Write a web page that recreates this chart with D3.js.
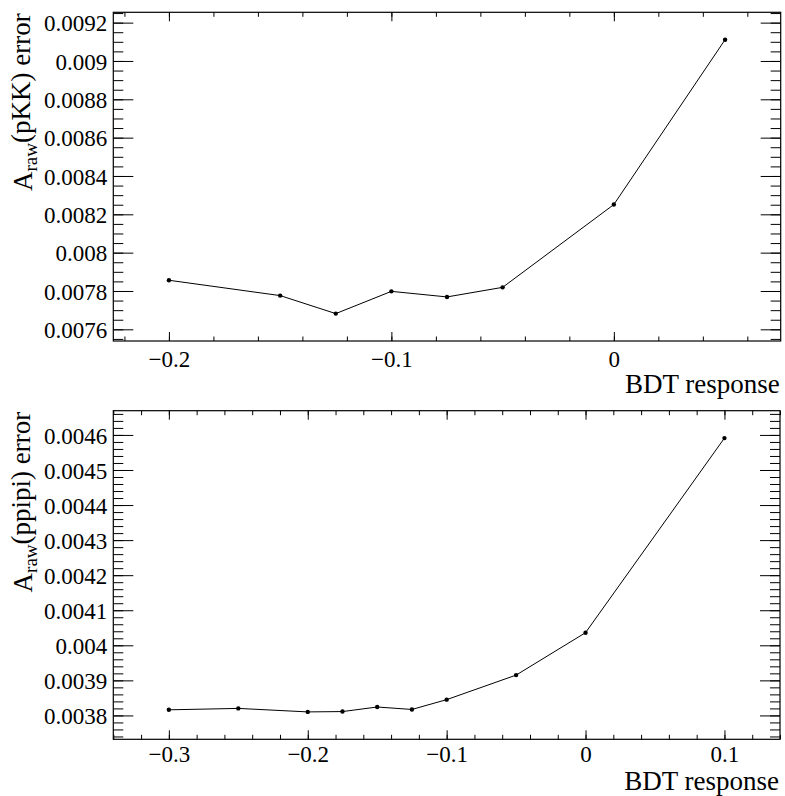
<!DOCTYPE html>
<html>
<head>
<meta charset="utf-8">
<script src="https://cdn.jsdelivr.net/npm/d3@7"></script>
<style>
  body { margin: 0; background: #fff; }
  svg { display: block; }
</style>
</head>
<body>
<div id="chart"></div>
<script>
// top panel: pKK
var bdtKK = [-0.2, -0.15, -0.125, -0.1, -0.075, -0.05, 0, 0.05];
var errKK = [0.007856, 0.007776, 0.007682, 0.007798, 0.007769, 0.007819, 0.008251, 0.009111];
var xTicksKK = [-0.2, -0.1, 0];
var yTicksKK = [0.0076, 0.0078, 0.008, 0.0082, 0.0084, 0.0086, 0.0088, 0.009, 0.0092];

// bottom panel: ppipi
var bdtPP = [-0.3, -0.25, -0.2, -0.175, -0.15, -0.125, -0.1, -0.05, 0, 0.1];
var errPP = [0.003816, 0.003820, 0.003810, 0.003811, 0.003824, 0.003817, 0.003845, 0.003915, 0.004036, 0.004591];
var xTicksPP = [-0.3, -0.2, -0.1, 0, 0.1];
var yTicksPP = [0.0038, 0.0039, 0.004, 0.0041, 0.0042, 0.0043, 0.0044, 0.0045, 0.0046];

var width = 785,
  height = 796;
var serif = "'Liberation Serif'";

var svg = d3.select("#chart")
  .append("svg")
  .attr("width", width)
  .attr("height", height);

function fmt(d) {
  return (Math.round(d * 1e7) / 1e7).toString().replace("-", "\u2212");
}

// minor ticks between majors, clipped to domain
function minorTicks(major, nsub, domain) {
  var step = (major[1] - major[0]) / nsub;
  var out = [];
  var start = major[0] - Math.ceil((major[0] - domain[0]) / step) * step;
  for (var v = start; v <= domain[1] + 1e-12; v += step) {
    if (v >= domain[0] - 1e-12) out.push(+v.toFixed(8));
  }
  return out;
}

// ROOT style 10% padding around data
function pad(vals) {
  var ext = d3.extent(vals);
  var m = (ext[1] - ext[0]) * 0.1;
  return [ext[0] - m, ext[1] + m];
}

function drawPanel(opt) {
  var g = svg.append("g");
  var x = d3.scaleLinear().domain(pad(opt.xs)).range([opt.left, opt.right]);
  var y = d3.scaleLinear().domain(pad(opt.ys)).range([opt.bottom, opt.top]);

  var xMinor = minorTicks(opt.xTicks, 5, x.domain());
  var yMinor = minorTicks(opt.yTicks, opt.ySub, y.domain());

  //x axis bottom (labels) and top (mirror)
  g.append("g")
    .attr("transform", "translate(0," + opt.bottom + ")")
    .call(d3.axisBottom(x).tickValues(xMinor).tickSize(-4.5).tickFormat(""));
  g.append("g")
    .attr("transform", "translate(0," + opt.bottom + ")")
    .call(d3.axisBottom(x).tickValues(opt.xTicks).tickSize(-9).tickPadding(opt.xLabelOff).tickFormat(fmt))
    .selectAll("text").attr("dy", "0");
  g.append("g")
    .attr("transform", "translate(0," + opt.top + ")")
    .call(d3.axisTop(x).tickValues(xMinor).tickSize(-4.5).tickFormat(""));
  g.append("g")
    .attr("transform", "translate(0," + opt.top + ")")
    .call(d3.axisTop(x).tickValues(opt.xTicks).tickSize(-9).tickFormat(""));

  //y axis left (labels) and right (mirror)
  g.append("g")
    .attr("transform", "translate(" + opt.left + ",0)")
    .call(d3.axisLeft(y).tickValues(yMinor).tickSize(-10).tickFormat(""));
  g.append("g")
    .attr("transform", "translate(" + opt.left + ",0)")
    .call(d3.axisLeft(y).tickValues(opt.yTicks).tickSize(-20).tickPadding(6).tickFormat(fmt))
    .selectAll("text").attr("dy", "0.36em");
  g.append("g")
    .attr("transform", "translate(" + opt.right + ",0)")
    .call(d3.axisRight(y).tickValues(yMinor).tickSize(-10).tickFormat(""));
  g.append("g")
    .attr("transform", "translate(" + opt.right + ",0)")
    .call(d3.axisRight(y).tickValues(opt.yTicks).tickSize(-20).tickFormat(""));

  g.selectAll(".domain").remove();
  g.selectAll(".tick line").attr("stroke", "#000").attr("stroke-width", 1);
  g.selectAll(".tick text")
    .attr("fill", "#000")
    .style("font-family", serif)
    .style("font-size", "23px");

  //frame
  g.append("rect")
    .attr("x", opt.left)
    .attr("y", opt.top)
    .attr("width", opt.right - opt.left)
    .attr("height", opt.bottom - opt.top)
    .attr("fill", "none")
    .attr("stroke", "#000")
    .attr("stroke-width", 1.2);

  var pts = opt.xs.map(function(d, i) { return [d, opt.ys[i]]; });

  var line = d3.line()
    .x(function(d) { return x(d[0]); })
    .y(function(d) { return y(d[1]); });

  g.append("path")
    .datum(pts)
    .attr("d", line)
    .attr("fill", "none")
    .attr("stroke", "#000")
    .attr("stroke-width", 1);

  g.selectAll(".pt")
    .data(pts)
    .enter().append("circle")
    .attr("class", "pt")
    .attr("cx", function(d) { return x(d[0]); })
    .attr("cy", function(d) { return y(d[1]); })
    .attr("r", 2.2)
    .attr("fill", "#000");

  //axis titles
  g.append("text")
    .attr("x", opt.right - 1)
    .attr("y", opt.bottom + opt.titleOff)
    .attr("text-anchor", "end")
    .style("font-family", serif)
    .style("font-size", "27px")
    .text("BDT response");

  var yt = g.append("text")
    .attr("transform", "translate(32," + (opt.top + 1) + ") rotate(-90)")
    .attr("text-anchor", "end")
    .style("font-family", serif)
    .style("font-size", "27px");
  yt.append("tspan").text("A");
  yt.append("tspan").attr("dy", "0.28em").style("font-size", "19px").text("raw");
  yt.append("tspan").attr("dy", "-0.28em").text(opt.label + " error");
}

drawPanel({
  xs: bdtKK, ys: errKK, xTicks: xTicksKK, yTicks: yTicksKK, ySub: 4,
  left: 113.3, right: 780.7, top: 12.3, bottom: 341,
  xLabelOff: 25.5, titleOff: 51.5,
  label: "(pKK)"
});

drawPanel({
  xs: bdtPP, ys: errPP, xTicks: xTicksPP, yTicks: yTicksPP, ySub: 5,
  left: 113.3, right: 780, top: 410.7, bottom: 739.3,
  xLabelOff: 22.4, titleOff: 50.7,
  label: "(ppipi)"
});
</script>
</body>
</html>
